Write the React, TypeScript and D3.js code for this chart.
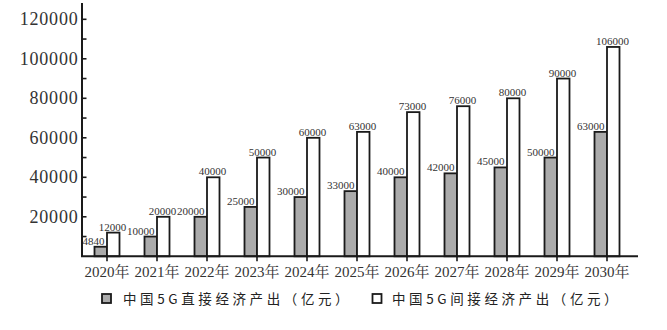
import React from "react";
import * as d3 from "d3";

const years = ["2020", "2021", "2022", "2023", "2024", "2025", "2026", "2027", "2028", "2029", "2030"];
const directOutput = [4840, 10000, 20000, 25000, 30000, 33000, 40000, 42000, 45000, 50000, 63000];
const indirectOutput = [12000, 20000, 40000, 50000, 60000, 63000, 73000, 76000, 80000, 90000, 106000];
const yTickValues = [20000, 40000, 60000, 80000, 100000, 120000];
const yMinorTickValues = [10000, 30000, 50000, 70000, 90000, 110000];
const legendLabels = ["中国5G直接经济产出（亿元）", "中国5G间接经济产出（亿元）"];

const W = 667;
const H = 330;
const serif = "'Liberation Serif', 'Times New Roman', 'Noto Serif CJK SC', 'Noto Sans CJK SC', serif";
const cjk = "'Noto Sans CJK SC', 'Liberation Serif', serif";
const ink = "#1a1a1a";
const grayFill = "#ababab";

export default function App() {
  const x = d3.scaleBand<string>().domain(years).range([82, 632]).padding(0);
  const y = d3.scaleLinear().domain([0, 120000]).range([256.3, 19.3]);
  const barW = 12.5;
  const cx = (yr: string) => (x(yr) as number) + x.bandwidth() / 2;
  const axisX = 82;
  const baseY = y(0);

  return (
    <svg width={W} height={H} style={{ position: "absolute", left: 0, top: 0, background: "#fff" }}>
      {/* bars */}
      {years.map((yr, i) => {
        const c = cx(yr);
        return (
          <g key={yr}>
            <rect
              x={c - barW}
              y={y(directOutput[i])}
              width={barW}
              height={baseY - y(directOutput[i])}
              fill={grayFill}
              stroke={ink}
              strokeWidth={1.8}
            />
            <rect
              x={c}
              y={y(indirectOutput[i])}
              width={barW}
              height={baseY - y(indirectOutput[i])}
              fill="#fff"
              stroke={ink}
              strokeWidth={1.8}
            />
            <text
              x={c - 2.5}
              y={y(directOutput[i]) - 2}
              textAnchor="end"
              fontFamily={serif}
              fontSize={11}
              fill="#333"
            >
              {directOutput[i]}
            </text>
            <text
              x={c + 5.5}
              y={y(indirectOutput[i]) - 2}
              textAnchor="middle"
              fontFamily={serif}
              fontSize={11}
              fill="#333"
            >
              {indirectOutput[i]}
            </text>
          </g>
        );
      })}

      {/* y axis */}
      <line x1={axisX} x2={axisX} y1={3} y2={baseY} stroke={ink} strokeWidth={2} />
      {yTickValues.map((t) => (
        <g key={t}>
          <line x1={axisX} x2={axisX + 4.5} y1={y(t)} y2={y(t)} stroke={ink} strokeWidth={1.6} />
          <text
            x={78.5}
            y={y(t) + 6}
            textAnchor="end"
            fontFamily={serif}
            fontSize={18}
            letterSpacing={0.8}
            fill="#333"
          >
            {t}
          </text>
        </g>
      ))}
      {yMinorTickValues.map((t) => (
        <line key={t} x1={axisX} x2={axisX + 4.5} y1={y(t)} y2={y(t)} stroke={ink} strokeWidth={1.6} />
      ))}

      {/* x axis */}
      <line x1={axisX - 1} x2={638} y1={baseY} y2={baseY} stroke={ink} strokeWidth={2} />
      {years.map((yr) => (
        <g key={yr}>
          <line x1={cx(yr)} x2={cx(yr)} y1={baseY} y2={baseY + 5} stroke={ink} strokeWidth={1.6} />
          <text x={cx(yr)} y={277} textAnchor="middle" fontFamily={serif} fontSize={15} fill="#333">
            {yr}年
          </text>
        </g>
      ))}

      {/* legend */}
      <rect x={102} y={294} width={9} height={9} fill={grayFill} stroke={ink} strokeWidth={1.8} />
      <text x={123} y={303.5} fontFamily={cjk} fontSize={13.5} letterSpacing={3.6} fill="#222">
        {legendLabels[0]}
      </text>
      <rect x={372.5} y={294} width={9} height={9} fill="#fff" stroke={ink} strokeWidth={1.8} />
      <text x={392} y={303.5} fontFamily={cjk} fontSize={13.5} letterSpacing={3.6} fill="#222">
        {legendLabels[1]}
      </text>
    </svg>
  );
}
